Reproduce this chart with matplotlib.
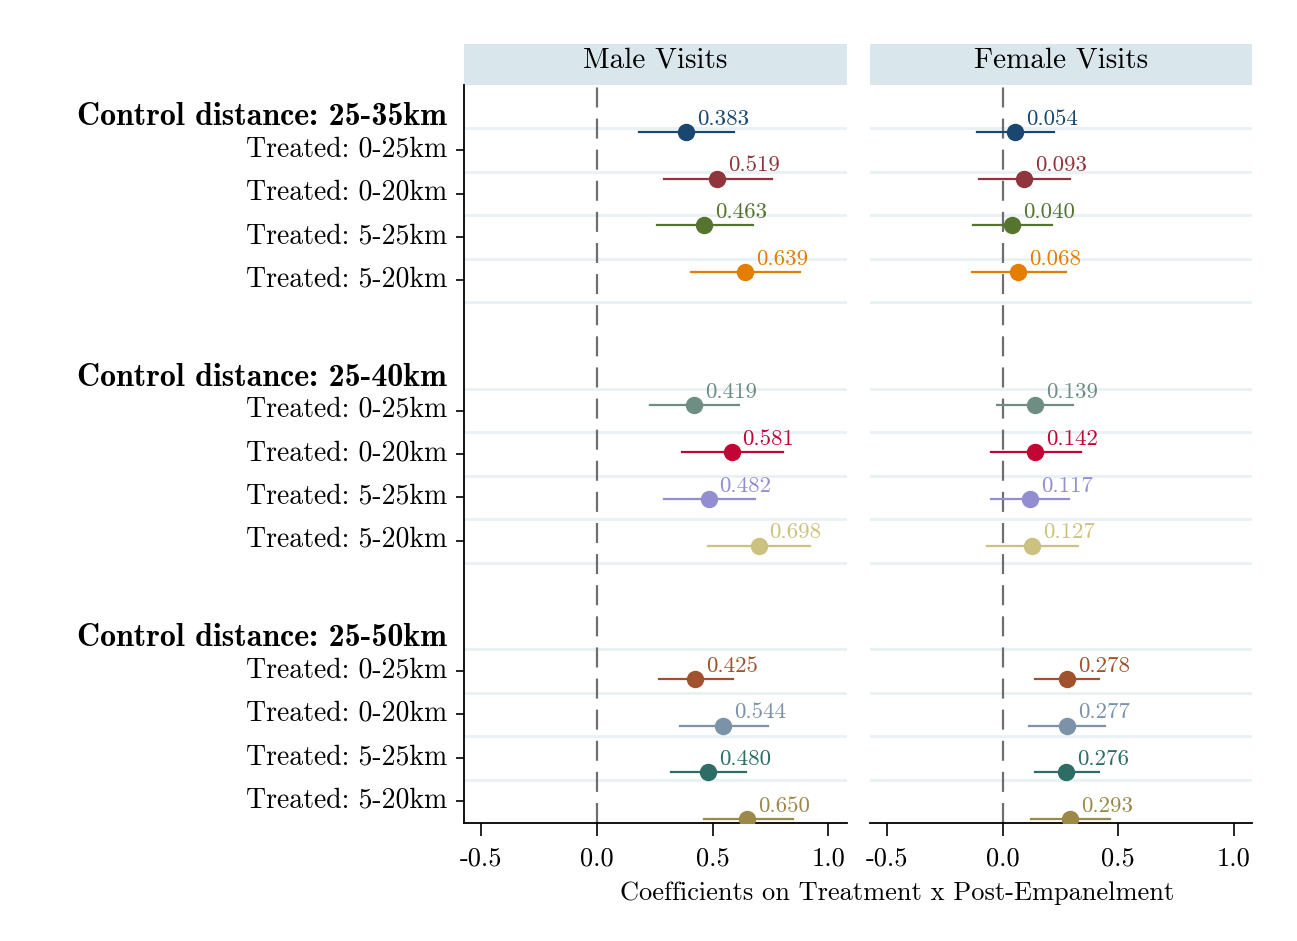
import matplotlib
matplotlib.use('Agg')
import matplotlib.pyplot as plt
import matplotlib.transforms as mtransforms
from matplotlib.patches import Rectangle

plt.rcParams['font.family'] = ['cmr10', 'DejaVu Serif']
plt.rcParams['axes.unicode_minus'] = False

groups = ['Control distance: 25-35km', 'Control distance: 25-40km', 'Control distance: 25-50km']
rows = ['Treated: 0-25km', 'Treated: 0-20km', 'Treated: 5-25km', 'Treated: 5-20km']
panels = ['Male Visits', 'Female Visits']

colors = ['#1a476f', '#90353b', '#55752f', '#e37e00',
          '#6e8e84', '#c10534', '#938dd2', '#cac27e',
          '#a0522d', '#7b92a8', '#2d6d66', '#9c8847']

# point estimates, order: group 1 rows, group 2 rows, group 3 rows
male_coef = [0.383, 0.519, 0.463, 0.639, 0.419, 0.581, 0.482, 0.698, 0.425, 0.544, 0.480, 0.650]
male_lo = [0.181, 0.289, 0.260, 0.405, 0.228, 0.365, 0.289, 0.480, 0.267, 0.358, 0.319, 0.461]
male_hi = [0.590, 0.754, 0.674, 0.878, 0.614, 0.803, 0.681, 0.922, 0.588, 0.739, 0.645, 0.846]

female_coef = [0.054, 0.093, 0.040, 0.068, 0.139, 0.142, 0.117, 0.127, 0.278, 0.277, 0.276, 0.293]
female_lo = [-0.111, -0.102, -0.128, -0.132, -0.024, -0.049, -0.049, -0.068, 0.142, 0.112, 0.138, 0.124]
female_hi = [0.224, 0.292, 0.213, 0.272, 0.306, 0.339, 0.286, 0.325, 0.418, 0.444, 0.418, 0.464]

xticks = [-0.5, 0.0, 0.5, 1.0]
xticklabels = ['-0.5', '0.0', '0.5', '1.0']

W, H = 1297, 941
fig = plt.figure(figsize=(W / 100, H / 100), dpi=100)

def px_axes(x0, x1, y0, y1):
    return fig.add_axes([x0 / W, 1 - y1 / H, (x1 - x0) / W, (y1 - y0) / H])

ax_l = px_axes(464, 847, 85, 823)
ax_r = px_axes(870, 1252, 85, 823)

# slot layout: gridlines at integer slots, rows sit between them
grid_slots = [k for k in range(17) if k not in (5, 11)]
tick_slots = [6 * g + i + 0.5 for g in range(3) for i in range(4)]
point_slots = [0.08 + 6.3 * g + 1.076 * i for g in range(3) for i in range(4)]

data = [(male_coef, male_lo, male_hi), (female_coef, female_lo, female_hi)]
strip_h = 41 / 738

for ax, (coef, lo, hi), title in zip([ax_l, ax_r], data, panels):
    ax.set_xlim(-0.575, 1.08)
    ax.set_ylim(16, -1)
    for k in grid_slots:
        ax.axhline(k, color='#e8f1f4', lw=2, zorder=0)
    ax.axvline(0, color='#6e6e6e', lw=1.6, dashes=(9, 5), zorder=1)
    for j in range(len(coef)):
        y = point_slots[j]
        ax.plot([lo[j], hi[j]], [y, y], color=colors[j], lw=1.6, zorder=2)
        ax.plot(coef[j], y, 'o', color=colors[j], ms=11.5, zorder=3)
        ax.annotate(f'{coef[j]:.3f}', (coef[j], y), xytext=(11, 13),
                    textcoords='offset pixels', ha='left', va='center',
                    color=colors[j], fontsize=16.5)
    ax.set_xticks(xticks)
    ax.set_xticklabels(xticklabels, fontsize=19)
    ax.tick_params(axis='x', length=9, width=1.2, pad=8, color='black')
    for s in ['top', 'right']:
        ax.spines[s].set_visible(False)
    ax.spines['bottom'].set_linewidth(1.3)
    # panel header strip
    ax.add_patch(Rectangle((0, 1.0), 1, strip_h, transform=ax.transAxes,
                           fc='#d9e6ec', ec='none', clip_on=False))
    ax.text(0.5, 1.0 + strip_h * 0.6, title, transform=ax.transAxes,
            ha='center', va='center', fontsize=21)

ax_l.set_yticks(tick_slots)
ax_l.set_yticklabels(rows * 3, fontsize=20)
ax_l.tick_params(axis='y', length=6, width=1.2, pad=6)
shift = mtransforms.ScaledTranslation(0, 4 / 100, fig.dpi_scale_trans)
for lab in ax_l.get_yticklabels():
    lab.set_transform(lab.get_transform() + shift)
ax_l.spines['left'].set_linewidth(1.3)
ax_r.set_yticks([])
ax_r.spines['left'].set_visible(False)

for g, name in enumerate(groups):
    ax_l.text(-17 / 383, 6 * g - 0.27, name, transform=ax_l.get_yaxis_transform(),
              ha='right', va='center', fontsize=23, family=['cmb10', 'DejaVu Serif'])

fig.text(897 / W, 1 - 893 / H, 'Coefficients on Treatment x Post-Empanelment',
         ha='center', va='center', fontsize=19)

fig.savefig('out.png', dpi=100)
